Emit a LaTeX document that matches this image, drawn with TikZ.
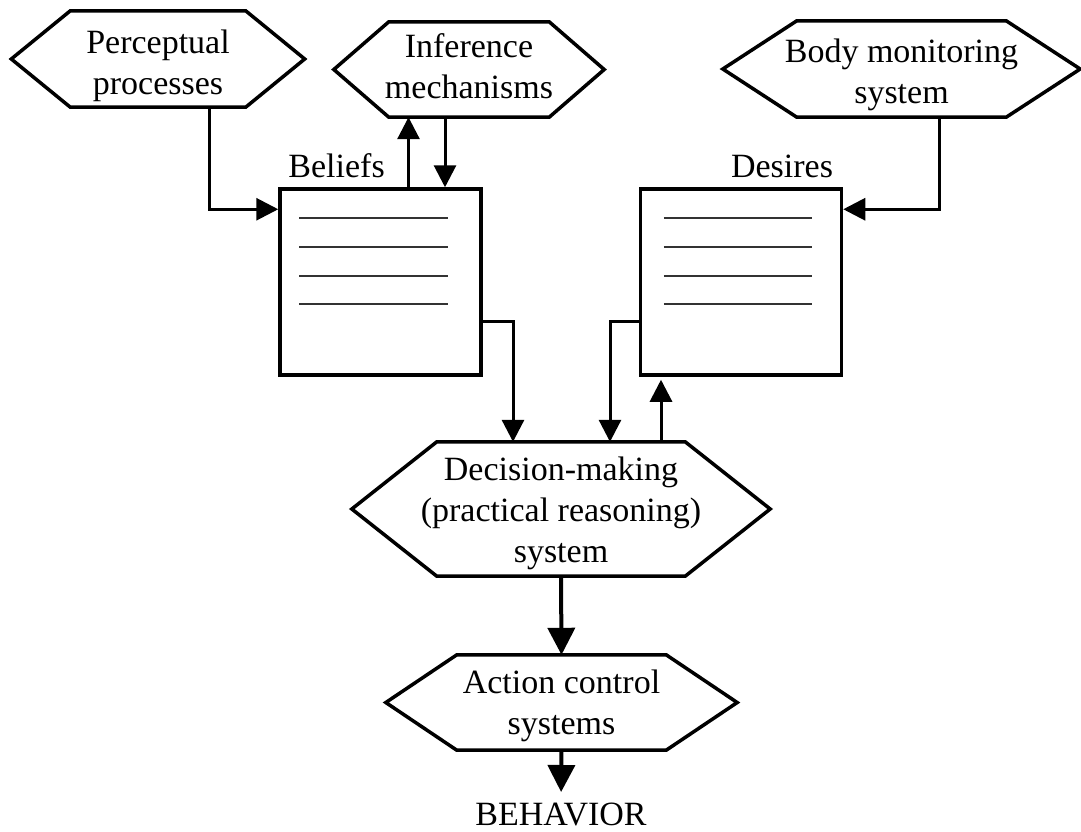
\documentclass[tikz,border=0pt]{standalone}
\usepackage{fontspec}
\setmainfont{Liberation Serif}
\usetikzlibrary{arrows.meta}

\tikzset{
  hexa/.style={inner sep=0pt, align=center, font=\fontsize{34}{41}\selectfont},
  hexline/.style={line width=3.5pt, line join=miter},
  store/.style={draw, line width=3.5pt, inner sep=0pt, minimum width=201pt, minimum height=186pt},
  entry/.style={line width=1.8pt, black!80},
  conn/.style={line width=3pt, -{Triangle[length=22pt,width=22pt]}},
  bigconn/.style={line width=4pt, -{Triangle[length=27pt,width=27pt]}},
  lbl/.style={inner sep=0pt, font=\fontsize{34}{41}\selectfont}
}
% hexagon round a node: name, slant
\newcommand{\hexshape}[2]{%
  \draw[hexline] ([xshift=#2]#1.north west) -- ([xshift=-#2]#1.north east) -- (#1.east)
    -- ([xshift=-#2]#1.south east) -- ([xshift=#2]#1.south west) -- (#1.west) -- cycle;}
% struts to move the text in a hexagon down / up
\newcommand{\hexdown}[1]{\rule{0pt}{#1}}
\newcommand{\hexup}[1]{\rule[-#1]{0pt}{#1}}

\begin{document}
\begin{tikzpicture}[x=1pt,y=-1pt]
  \path[use as bounding box, fill=white] (0,0) rectangle (1081,831);

  % Inputs
  \node[hexa, minimum width=293pt, minimum height=96pt] (perc) at (158,59) {\hexdown{38pt}Perceptual\\processes};
  \node[hexa, minimum width=270pt, minimum height=95pt] (inf) at (469,69.5) {Inference\\mechanisms\hexup{7pt}};
  \node[hexa, minimum width=357pt, minimum height=96pt] (body) at (901.5,69) {\hexdown{35pt}Body monitoring\\system};
  \hexshape{perc}{59pt}
  \hexshape{inf}{55pt}
  \hexshape{body}{74pt}

  % Beliefs and desires
  \node[store] (bel) at (380.5,282) {};
  \node[store] (des) at (741,282) {};
  \node[lbl, anchor=south west] (bellbl) at ([xshift=10pt,yshift=9pt]bel.north west) {Beliefs};
  \node[lbl, anchor=south east] (deslbl) at ([xshift=-10pt,yshift=9pt]des.north east) {Desires};
  \foreach \dy in {31,60,89,117} {
    \draw[entry] ([xshift=21pt,yshift=-\dy pt]bel.north west) -- ([xshift=-35pt,yshift=-\dy pt]bel.north east);
    \draw[entry] ([xshift=25pt,yshift=-\dy pt]des.north west) -- ([xshift=-31pt,yshift=-\dy pt]des.north east);
  }

  % Decision and action
  \node[hexa, minimum width=418pt, minimum height=134pt] (dec) at (561,509) {\hexdown{32pt}Decision-making\\(practical reasoning)\\system};
  \node[hexa, minimum width=351pt, minimum height=95pt] (act) at (561.5,702.5) {\hexdown{30pt}Action control\\systems};
  \node[lbl, anchor=north] (beh) at (561,803) {BEHAVIOR};
  \hexshape{dec}{85pt}
  \hexshape{act}{71pt}

  % Connectors
  \draw[conn] ([xshift=51pt]perc.south) |- ([yshift=-22pt]bel.north west);
  \draw[conn] ([xshift=28pt]bel.north) -- ([xshift=28pt]bel.north |- inf.south);
  \draw[conn] ([xshift=-24pt]inf.south) -- ([xshift=-24pt]inf.south |- bel.north);
  \draw[conn] ([xshift=38pt]body.south) |- ([yshift=-22pt]des.north east);
  \draw[conn] ([yshift=-39pt]bel.east) -| ([xshift=-48pt]dec.north);
  \draw[conn] ([yshift=-39pt]des.west) -| ([xshift=49pt]dec.north);
  \draw[conn, shorten >=3pt] ([xshift=100pt]dec.north) -- ([xshift=100pt]dec.north |- des.south);
  \draw[bigconn] (dec.south) -- (act.north);
  \draw[bigconn, shorten >=11pt] (act.south) -- (beh.north);
\end{tikzpicture}
\end{document}
